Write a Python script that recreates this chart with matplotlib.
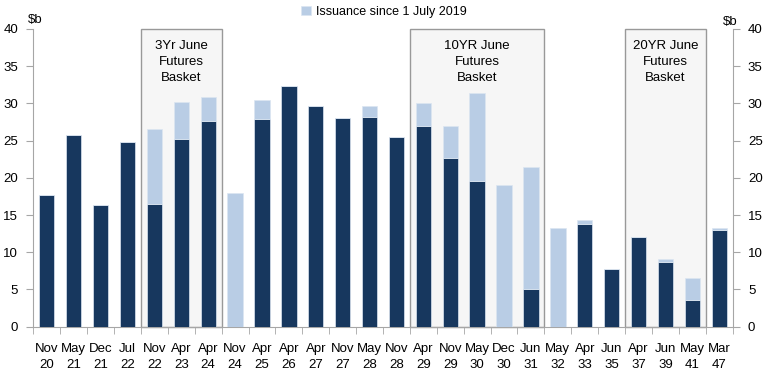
import numpy as np
import matplotlib.pyplot as plt
from matplotlib.patches import Rectangle

plt.rcParams['font.family'] = ['Liberation Sans', 'DejaVu Sans']

cats = ['Nov\n20', 'May\n21', 'Dec\n21', 'Jul\n22', 'Nov\n22', 'Apr\n23', 'Apr\n24',
        'Nov\n24', 'Apr\n25', 'Apr\n26', 'Apr\n27', 'Nov\n27', 'May\n28', 'Nov\n28',
        'Apr\n29', 'Nov\n29', 'May\n30', 'Dec\n30', 'Jun\n31', 'May\n32', 'Apr\n33',
        'Jun\n35', 'Apr\n37', 'Jun\n39', 'May\n41', 'Mar\n47']
# outstanding as at 1 July 2019
base = [17.7, 25.8, 16.4, 24.8, 16.5, 25.2, 27.6, 0.0, 27.9, 32.3, 29.7, 28.0, 28.2,
        25.5, 27.0, 22.7, 19.6, 0.0, 5.0, 0.0, 13.8, 7.7, 12.0, 8.7, 3.6, 13.0]
# total incl. issuance since
total = [17.7, 25.8, 16.4, 24.8, 26.5, 30.2, 30.9, 18.0, 30.4, 32.3, 29.7, 28.0, 29.7,
         25.5, 30.0, 26.9, 31.4, 19.0, 21.5, 13.2, 14.3, 7.7, 12.0, 9.1, 6.6, 13.3]
baskets = [('3Yr June\nFutures\nBasket', 4, 6),
           ('10YR June\nFutures\nBasket', 14, 18),
           ('20YR June\nFutures\nBasket', 22, 24)]

base = np.array(base)
total = np.array(total)
x = np.arange(len(cats))

dark = '#17375e'
light = '#b9cde5'
grey = '#a6a6a6'

fig = plt.figure(figsize=(7.68, 3.75), dpi=100)
ax = fig.add_axes([0.0434, 0.1288, 0.9106, 0.7939])

ax.bar(x, base, width=0.57, color=dark, edgecolor='#dce6f1', linewidth=0.5, zorder=3)
ax.bar(x, total - base, bottom=base, width=0.57, color=light, edgecolor='#dce6f1',
       linewidth=0.5, zorder=3, label='Issuance since 1 July 2019')

for txt, i0, i1 in baskets:
    ax.add_patch(Rectangle((i0 - 0.5, 0), i1 - i0 + 1, 40, facecolor='#f6f6f6',
                           edgecolor='#999999', linewidth=1, zorder=1, clip_on=False))
    ax.text((i0 + i1) / 2, 38.5, txt, ha='center', va='top', fontsize=9.5,
            linespacing=1.45, zorder=4)

ax.set_xlim(-0.5, len(cats) - 0.5)
ax.set_ylim(0, 40)
ax.set_yticks(np.arange(0, 41, 5))
ax.set_xticks(x)
ax.set_xticklabels(cats, fontsize=9.5, linespacing=1.35)
ax.set_xticks(np.arange(-0.5, len(cats), 1), minor=True)
ax.tick_params(axis='x', which='major', length=0, pad=12)
ax.tick_params(axis='x', which='minor', length=5, color=grey)
ax.tick_params(axis='y', labelright=True, right=True, length=5, color=grey,
               labelsize=9.5, pad=6)

ax.spines['top'].set_visible(False)
for s in ['left', 'right', 'bottom']:
    ax.spines[s].set_color(grey)

fig.text(0.036, 0.962, '$b', fontsize=9.5, va='top')
fig.text(0.941, 0.957, '$b', fontsize=9.5, va='top')

fig.legend(loc='upper center', bbox_to_anchor=(0.5, 1.015), frameon=False,
           fontsize=9, handlelength=0.8, handleheight=0.8, handletextpad=0.4)

fig.savefig('out.png', dpi=100)
